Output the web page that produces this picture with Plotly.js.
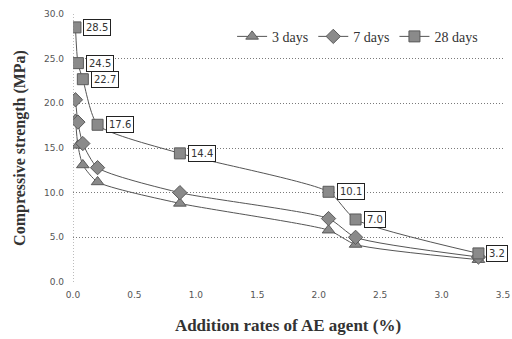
<!DOCTYPE html>
<html>
<head>
<meta charset="utf-8">
<script src="https://cdn.plot.ly/plotly-3.0.1.min.js"></script>
<style>html,body{margin:0;padding:0;background:#fff;}#chart{width:512px;height:339px;}</style>
</head>
<body>
<div id="chart"></div>
<script>
const rates = [0.02, 0.04, 0.08, 0.2, 0.87, 2.08, 2.3, 3.3];
const days3 = [18.2, 15.3, 13.1, 11.2, 8.8, 5.8, 4.2, 2.5];
const days7 = [20.4, 17.9, 15.5, 12.8, 10.0, 7.1, 5.0, 2.8];
const days28 = [28.5, 24.5, 22.7, 17.6, 14.4, 10.1, 7.0, 3.2];
const seriesNames = ['3 days', '7 days', '28 days'];
const xTicks = [0, 0.5, 1.0, 1.5, 2.0, 2.5, 3.0, 3.5];
const yTicks = [0, 5, 10, 15, 20, 25, 30];

const lineStyle = {color: '#555', width: 1, shape: 'spline', smoothing: 0.6};
function mk(symbol, size) {
  return {symbol: symbol, size: size, color: '#8a8a8a', line: {color: '#5a5a5a', width: 1}};
}
const traces = [
  {x: rates, y: days3, name: seriesNames[0], mode: 'lines+markers', line: lineStyle, marker: mk('triangle-up', 11)},
  {x: rates, y: days7, name: seriesNames[1], mode: 'lines+markers', line: lineStyle, marker: mk('diamond', 11)},
  {x: rates, y: days28, name: seriesNames[2], mode: 'lines+markers', line: lineStyle, marker: mk('square', 11)}
];

const annotations = rates.map((r, i) => ({
  x: r, y: days28[i], xref: 'x', yref: 'y',
  text: days28[i].toFixed(1), showarrow: false,
  xanchor: 'left', yanchor: 'middle', xshift: 8,
  bordercolor: '#222', borderwidth: 1, borderpad: 2, bgcolor: '#fff',
  font: {family: 'DejaVu Sans', size: 10, color: '#333'}
}));

const layout = {
  width: 512, height: 339,
  margin: {l: 73, r: 9, t: 14, b: 57},
  paper_bgcolor: '#fff', plot_bgcolor: '#fff',
  showlegend: true,
  legend: {orientation: 'h', x: 0.37, y: 0.915, xanchor: 'left', yanchor: 'middle',
    font: {family: 'Liberation Serif', size: 14, color: '#333'}, bgcolor: 'rgba(0,0,0,0)', itemgap: 12},
  xaxis: {range: [0, 3.5], tickvals: xTicks, tickformat: '.1f', showgrid: false, zeroline: false,
    showline: false, ticks: '', ticklabelstandoff: 6, ticklabeloverflow: 'allow',
    tickfont: {family: 'DejaVu Sans', size: 9, color: '#555'},
    title: {text: 'Addition rates of AE agent (%)', standoff: 20,
      font: {family: 'Liberation Serif', size: 17, color: '#333', weight: 'bold'}}},
  yaxis: {range: [0, 30], tickvals: yTicks, tickformat: '.1f', showgrid: true, gridcolor: '#7a7a7a',
    griddash: '1px,2px', gridwidth: 1, zeroline: false, showline: false, ticks: '', ticklabelstandoff: 8,
    tickfont: {family: 'DejaVu Sans', size: 9, color: '#555'},
    title: {text: 'Compressive strength (MPa)', standoff: 14,
      font: {family: 'Liberation Serif', size: 16, color: '#333', weight: 'bold'}}},
  shapes: [{type: 'line', xref: 'x', yref: 'paper', x0: 0, x1: 0, y0: 0, y1: 1,
    line: {color: '#7a7a7a', width: 1, dash: '1px,2px'}}],
  annotations: annotations
};
Plotly.newPlot('chart', traces, layout, {displayModeBar: false, staticPlot: true});
</script>
</body>
</html>
